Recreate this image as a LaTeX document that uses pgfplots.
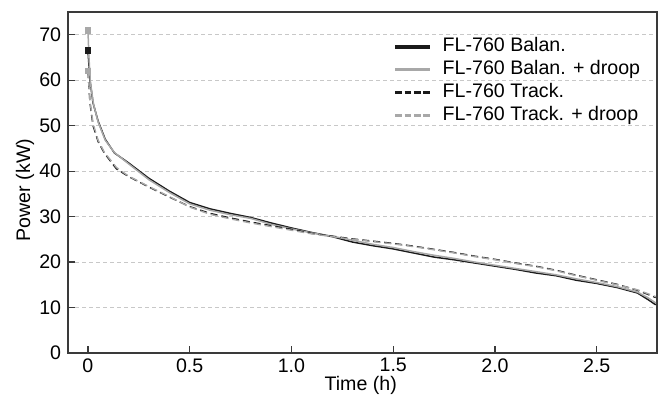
\documentclass[border=0pt]{standalone}
\usepackage{fontspec}
\setmainfont{Liberation Sans}
\usepackage{pgfplots}
\pgfplotsset{compat=1.18}
\definecolor{axgray}{HTML}{3A3A3A}
\definecolor{gridgray}{HTML}{C8C8C8}
\definecolor{lgray}{HTML}{A8A8A8}
\definecolor{dgray}{HTML}{1A1A1A}
\newcommand{\chartfont}{\fontsize{9.8pt}{11.5pt}\selectfont}
\begin{document}
\chartfont
\begin{tikzpicture}
\path[use as bounding box] (-34pt,-21.2pt) rectangle (295pt,176.5pt);
\begin{axis}[
  scale only axis,
  width=294.5pt, height=170.5pt,
  at={(0,0)}, anchor=south west,
  xmin=-0.098, xmax=2.796,
  ymin=0, ymax=75,
  xtick={0,0.5,1.0,1.5,2.0,2.5},
  xticklabels={0,0.5,1.0,1.5,2.0,2.5},
  ytick={0,10,20,30,40,50,60,70},
  tick align=inside,
  major tick length=3.5pt,
  tick style={axgray, line width=0.6pt},
  xtick pos=bottom, ytick pos=left,
  axis line style={axgray, line width=0.8pt},
  ymajorgrids,
  grid style={gridgray, line width=0.4pt, dash pattern=on 2pt off 1.5pt},
  /pgf/number format/assume math mode=true,
  ticklabel style={font=\chartfont},
  xticklabel style={yshift=0.8pt},
  label style={font=\chartfont},
  xlabel={Time (h)},
  ylabel={Power (kW)},
  xlabel style={at={(axis description cs:0.497,0)}, anchor=base, yshift=-19pt},
  ylabel style={at={(axis description cs:-0.073,0.478)}, anchor=center},
  legend cell align=left,
  legend style={draw=none, fill=none, at={(axis description cs:0.552,0.925)}, anchor=north west,
    row sep=2.4pt, inner sep=0pt,
    nodes={inner sep=0pt, text height=7pt, text depth=2pt, font=\chartfont},
    /tikz/every odd column/.append style={column sep=5.5pt}},
  legend image code/.code={\draw[#1, line width=1.6pt, mark=none] (0pt,0pt) -- (17.5pt,0pt);},
]
% Balan. (black solid)
\addplot[dgray, line width=0.75pt, mark=square*, mark size=1.3pt, mark repeat=1000, mark phase=1, mark options={solid}] coordinates {
(0,66.5) (0.01,60) (0.025,55) (0.05,51) (0.085,47) (0.13,44) (0.2,41.8) (0.3,38.4) (0.4,35.6) (0.5,33.1) (0.6,31.7) (0.7,30.7) (0.8,29.8) (0.9,28.6) (1.0,27.5) (1.1,26.5) (1.2,25.6) (1.3,24.4) (1.4,23.6) (1.5,22.9) (1.6,22.0) (1.7,21.1) (1.8,20.5) (1.9,19.8) (2.0,19.1) (2.1,18.4) (2.2,17.6) (2.3,17.0) (2.4,16.0) (2.5,15.3) (2.6,14.4) (2.7,13.2) (2.75,11.8) (2.79,10.6)
};
\addlegendentry{FL-760 Balan.}
% Balan. + droop (grey solid)
\addplot[lgray, line width=0.75pt, mark=square*, mark size=1.3pt, mark repeat=1000, mark phase=1, mark options={solid}] coordinates {
(0,71) (0.005,65) (0.012,59.5) (0.027,54.8) (0.05,50.8) (0.085,46.8) (0.13,44.1) (0.2,41.6) (0.3,38.1) (0.4,35.3) (0.5,32.8) (0.6,31.4) (0.7,30.4) (0.8,29.6) (0.9,28.3) (1.0,27.3) (1.1,26.4) (1.2,25.7) (1.3,24.8) (1.4,23.9) (1.5,23.2) (1.6,22.3) (1.7,21.5) (1.8,20.8) (1.9,20.0) (2.0,19.3) (2.1,18.6) (2.2,17.9) (2.3,17.2) (2.4,16.3) (2.5,15.5) (2.6,14.6) (2.7,13.4) (2.75,12.2) (2.79,11.0)
};
\addlegendentry{FL-760 Balan. + droop}
% Track. (black dashed)
\addplot[dgray, line width=0.7pt, dash pattern=on 3.5pt off 2pt, legend image post style={dash pattern=on 3.3pt off 1.4pt}] coordinates {
(0,62) (0.01,55) (0.025,50) (0.05,46.5) (0.08,44) (0.14,40.5) (0.2,38.8) (0.3,36.5) (0.4,34.3) (0.5,32.2) (0.6,30.7) (0.7,29.7) (0.8,28.8) (0.9,28.0) (1.0,27.2) (1.1,26.3) (1.2,25.7) (1.3,25.1) (1.4,24.6) (1.5,24.1) (1.6,23.5) (1.7,22.8) (1.8,22.1) (1.9,21.3) (2.0,20.6) (2.1,19.8) (2.2,19.1) (2.3,18.2) (2.4,17.1) (2.5,16.1) (2.6,15.1) (2.7,13.8) (2.79,12.2)
};
\addlegendentry{FL-760 Track.}
% Track. + droop (grey dashed)
\addplot[lgray, line width=0.7pt, dash pattern=on 3.5pt off 2pt, legend image post style={dash pattern=on 3.3pt off 1.4pt}, mark=square*, mark size=1.3pt, mark repeat=1000, mark phase=1, mark options={solid}] coordinates {
(0,62) (0.01,55.5) (0.025,50.5) (0.05,46.8) (0.08,44.2) (0.14,40.8) (0.2,38.9) (0.3,36.6) (0.4,34.4) (0.5,32.1) (0.6,30.5) (0.7,29.5) (0.8,28.6) (0.9,27.8) (1.0,27.0) (1.1,26.2) (1.2,25.6) (1.3,25.0) (1.4,24.5) (1.5,24.0) (1.6,23.4) (1.7,22.7) (1.8,22.0) (1.9,21.2) (2.0,20.5) (2.1,19.7) (2.2,19.0) (2.3,18.1) (2.4,17.0) (2.5,16.0) (2.6,15.0) (2.7,13.9) (2.79,12.4)
};
\addlegendentry{FL-760 Track. + droop}
\end{axis}
\end{tikzpicture}
\end{document}
